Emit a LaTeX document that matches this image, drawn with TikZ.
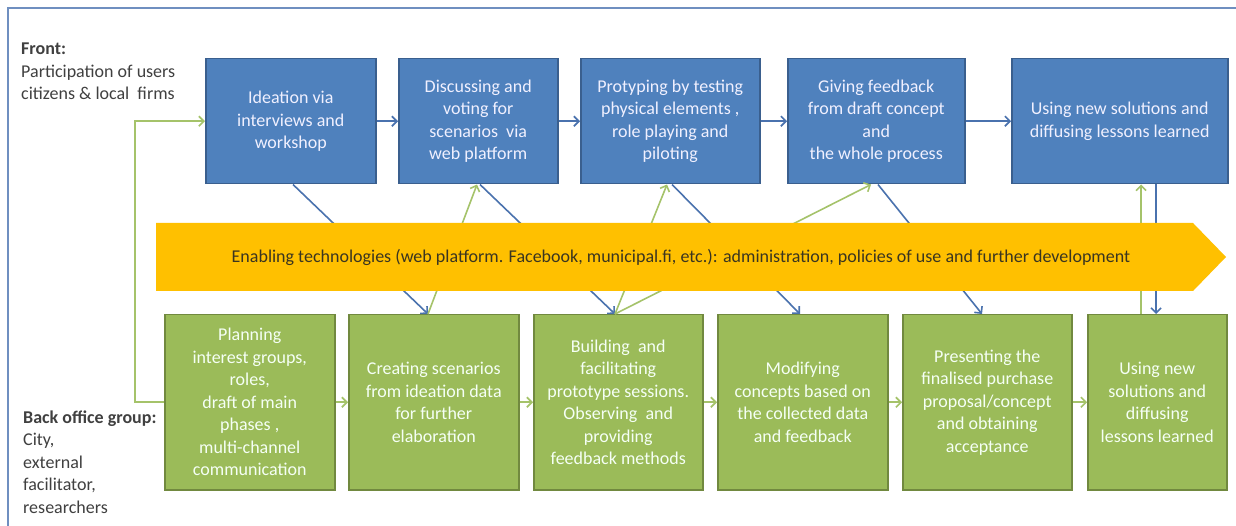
\documentclass[tikz,border=0pt]{standalone}
\usepackage{fontspec}
\setmainfont{Carlito}
\usetikzlibrary{arrows.meta,calc}

\definecolor{boxblue}{HTML}{4F81BD}
\definecolor{boxblueedge}{HTML}{3A5F8E}
\definecolor{boxgreen}{HTML}{9BBB59}
\definecolor{boxgreenedge}{HTML}{71893F}
\definecolor{bandgold}{HTML}{FFC000}
\definecolor{lineblue}{HTML}{4A72AE}
\definecolor{linegreen}{HTML}{A5C36A}
\definecolor{framecol}{HTML}{6F8FC0}
\definecolor{labelgray}{HTML}{404040}
\definecolor{bandtext}{HTML}{3A3520}

\begin{document}
\begin{tikzpicture}[x=1pt,y=-1pt,
  every node/.style={font=\fontsize{18}{22.5}\selectfont},
  front/.style={draw=boxblueedge, fill=boxblue, line width=1.5pt,
    text=blue!6!white, align=center, anchor=north west,
    minimum height=125pt, inner sep=2pt},
  back/.style={draw=boxgreenedge, fill=boxgreen, line width=1.5pt,
    text=green!4!white, align=center, anchor=north west,
    minimum height=175pt, inner sep=2pt},
  tip/.style={-{Straight Barb[length=5pt,width=10pt]}},
  bluearrow/.style={draw=lineblue, line width=1.6pt, tip},
  greenarrow/.style={draw=linegreen, line width=1.6pt, tip},
  sidelabel/.style={text=labelgray, align=left, anchor=base west, inner sep=0pt}
]
\useasboundingbox (0,0) rectangle (1236,526);
\fill[white] (0,0) rectangle (1236,526);

% outer frame
\draw[framecol, line width=2.5pt] (8,526) -- (8,8) -- (1236,8);

% side labels (anchored on the baseline of their last line)
\node[sidelabel] (frontlbl) at (21,100)
  {\textbf{Front:}\\Participation of users\\citizens \&\ local\ \ firms};
\node[sidelabel] (backlbl) at (23,513)
  {\textbf{Back office group:}\\City,\\external\\facilitator,\\researchers};

% front-stage activities
\node[front, minimum width=170pt] (t1) at (205,58) {Ideation via\\interviews and\\workshop};
\node[front, minimum width=159pt] (t2) at (398,58) {Discussing and\\voting for\\scenarios\ \ via\\web platform};
\node[front, minimum width=179pt] (t3) at (580,58) {Protyping by testing\\physical elements ,\\role playing and\\piloting};
\node[front, minimum width=177pt] (t4) at (787,58) {Giving feedback\\from draft concept\\and\\the whole process};
\node[front, minimum width=216pt] (t5) at (1011,58) {Using new solutions and\\diffusing lessons learned};

% back-office activities
\node[back, minimum width=170pt] (b1) at (164,314) {Planning\\interest groups,\\roles,\\draft of main\\phases ,\\multi-channel\\communication};
\node[back, minimum width=170pt] (b2) at (348,314) {Creating scenarios\\from ideation data\\for further\\elaboration};
\node[back, minimum width=169pt] (b3) at (533,314) {Building\ \ and\\facilitating\\prototype sessions.\\Observing\ \ and\\providing\\feedback methods};
\node[back, minimum width=170pt] (b4) at (717,314) {Modifying\\concepts based on\\the collected data\\and feedback};
\node[back, minimum width=169pt] (b5) at (902,314) {Presenting the\\finalised purchase\\proposal/concept\\and obtaining\\acceptance};
\node[back, minimum width=139pt] (b6) at (1087,314) {Using new\\solutions and\\diffusing\\lessons learned};

% sequence along each row
\draw[bluearrow] (t1) -- (t2);
\draw[bluearrow] (t2) -- (t3);
\draw[bluearrow] (t3) -- (t4);
\draw[bluearrow] (t4) -- (t5);
\draw[greenarrow] (b1) -- (b2);
\draw[greenarrow] (b2) -- (b3);
\draw[greenarrow] (b3) -- (b4);
\draw[greenarrow] (b4) -- (b5);
\draw[greenarrow] (b5) -- (b6);

% feedback loop from planning to ideation
\draw[greenarrow] (b1.west) -- ++(-29,0) |- (t1.west);

% exchanges between the two rows
\coordinate (t1o) at ($(t1.south west)+(88,0)$);
\coordinate (t2i) at ($(t2.south west)+(79,0)$);
\coordinate (t2o) at ($(t2.south west)+(82,0)$);
\coordinate (t3i) at ($(t3.south west)+(87,0)$);
\coordinate (t3o) at ($(t3.south west)+(92,0)$);
\coordinate (t4i) at ($(t4.south west)+(84,0)$);
\coordinate (t4o) at ($(t4.south west)+(91,0)$);
\coordinate (t5i) at ($(t5.south west)+(130,0)$);
\coordinate (t5o) at ($(t5.south west)+(145,0)$);
\coordinate (b2p) at ($(b2.north west)+(80,0)$);
\coordinate (b3p) at ($(b3.north west)+(82,0)$);
\coordinate (b4p) at ($(b4.north west)+(83,0)$);
\coordinate (b5p) at ($(b5.north west)+(80,0)$);
\coordinate (b6i) at ($(b6.north west)+(69,0)$);
\coordinate (b6o) at ($(b6.north west)+(54,0)$);

\draw[bluearrow] (t1o) -- (b2p);
\draw[greenarrow] (b2p) -- (t2i);
\draw[bluearrow] (t2o) -- (b3p);
\draw[greenarrow] (b3p) -- (t3i);
\draw[greenarrow] (b3p) -- (t4i);
\draw[bluearrow] (t3o) -- (b4p);
\draw[bluearrow] (t4o) -- (b5p);
\draw[greenarrow] (b6o) -- (t5i);
\draw[bluearrow] (t5o) -- (b6i);

% enabling technologies band, laid over the exchanges
\fill[bandgold] (156,223) -- (1193,223) -- (1226,257) -- (1193,291) -- (156,291) -- cycle;
\node[text=bandtext] (band) at (681,257)
  {Enabling technologies (web platform. Facebook, municipal.fi, etc.): administration, policies of use and further development};

\end{tikzpicture}
\end{document}
